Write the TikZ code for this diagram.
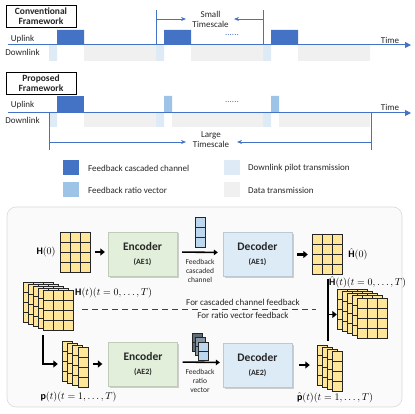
\documentclass[tikz,border=0pt]{standalone}
\usepackage{fontspec}
\setmainfont{Carlito}
\usetikzlibrary{arrows.meta,shadows,calc}
\definecolor{dblue}{HTML}{4472C4}
\definecolor{lblue}{HTML}{9DC3E6}
\definecolor{pilot}{HTML}{DEEBF7}
\definecolor{datag}{HTML}{F0F0F0}
\definecolor{myyellow}{HTML}{FFE699}
\definecolor{encg}{HTML}{E2EFDA}
\definecolor{decb}{HTML}{DDEBF7}
\definecolor{vecb}{HTML}{BDD7EE}
\definecolor{panelg}{HTML}{FAFAFA}
\definecolor{txt}{HTML}{262626}
\newcommand\mgrid[7]{%
  \foreach \gi in {1,...,#3}{\foreach \gj in {1,...,#4}{%
    \filldraw[fill=#7, draw=black!85, line width=0.7pt] ({#1+(\gi-1)*#5},{#2+(\gj-1)*#6}) rectangle ++(#5,#6);}}}
\begin{document}
\begin{tikzpicture}[x=1pt,y=-1pt,
  tl/.style={draw=dblue, line width=1pt},
  tlarrow/.style={draw=dblue, line width=1pt, -{Triangle[length=6pt,width=6pt]}},
  scarrow/.style={draw=dblue, line width=0.8pt, -{Stealth[length=5pt,width=4pt]}},
  titlebox/.style={draw=black, line width=0.8pt, fill=white, text=txt, font=\bfseries\fontsize{9.5}{10.5}\selectfont, align=center, minimum width=70pt, minimum height=22pt, inner sep=0pt},
  lab/.style={font=\fontsize{9}{10}\selectfont, text=txt, inner sep=0pt},
  smalllab/.style={font=\fontsize{7.5}{9}\selectfont, text=txt, align=center, inner sep=0pt},
  enc/.style={fill=encg, draw=encg!85!black, line width=0.3pt, minimum width=69pt, minimum height=44pt, align=center, text=txt, font=\bfseries\fontsize{11.5}{13}\selectfont, drop shadow={shadow xshift=1.5pt, shadow yshift=-1.5pt, opacity=0.3, fill=black!60}},
  dec/.style={enc, fill=decb, draw=decb!85!black},
  holder/.style={inner sep=0pt, draw=none},
  thickarr/.style={line width=2pt, -{Triangle[length=4.5pt,width=7pt]}},
  fbarr/.style={line width=1.6pt, -{Triangle[length=4pt,width=5.5pt]}},
  mathlab/.style={inner sep=0pt, font=\fontsize{10}{12}\selectfont}
]
\useasboundingbox (0,0) rectangle (415,414);

% ---------------- top: conventional ----------------
\node[titlebox] (conv) at (41,16) {Conventional\\Framework};
\node[lab] (up1) at (22.5,39) {Uplink};
\node[lab] (dn1) at (22.5,52) {Downlink};
\fill[dblue] (57,30) rectangle (84,45) (164,30) rectangle (191,45) (271,30) rectangle (298,45);
\fill[pilot] (49,45) rectangle (57,61) (156,45) rectangle (164,61) (263,45) rectangle (271,61);
\fill[datag] (84,45) rectangle (156,61) (191,45) rectangle (263,61) (298,45) rectangle (370,61);
\coordinate (t1s) at (8,45); \coordinate (t1e) at (411,45);
\draw[tlarrow] (t1s) -- (t1e);
\node[lab, anchor=south] (time1) at (390,44) {Time};
\node[text=dblue, inner sep=0pt, font=\fontsize{9}{9}\selectfont] (dots1) at (232,35) {......};
\coordinate (s1a) at (156,10); \coordinate (s1b) at (156,45);
\coordinate (s2a) at (263,10); \coordinate (s2b) at (263,45);
\draw[tl, line width=0.9pt] (s1a) -- (s1b);
\draw[tl, line width=0.9pt] (s2a) -- (s2b);
\coordinate (sa1) at (156,19); \coordinate (sa2) at (186,19);
\coordinate (sb1) at (263,19); \coordinate (sb2) at (234,19);
\draw[scarrow] (sa1) -- (sa2);
\draw[scarrow] (sb1) -- (sb2);
\node[lab, align=center, font=\fontsize{9}{10}\selectfont] (small) at (210.5,19) {Small\\Timescale};

% ---------------- top: proposed ----------------
\node[titlebox] (prop) at (41,83) {Proposed\\Framework};
\node[lab] (up2) at (22.5,105) {Uplink};
\node[lab] (dn2) at (22.5,120) {Downlink};
\fill[dblue] (57,96) rectangle (84,113);
\fill[lblue] (164,96) rectangle (172,113) (271,96) rectangle (279,113);
\fill[pilot] (49,113) rectangle (57,127) (156,113) rectangle (164,127) (263,113) rectangle (271,127);
\fill[datag] (84,113) rectangle (156,127) (172,113) rectangle (263,127) (279,113) rectangle (370,127);
\coordinate (t2s) at (8,113); \coordinate (t2e) at (411,113);
\draw[tlarrow] (t2s) -- (t2e);
\node[lab, anchor=south] (time2) at (390,111) {Time};
\node[text=dblue, inner sep=0pt, font=\fontsize{9}{9}\selectfont] (dots2) at (232,102) {......};
\coordinate (l1a) at (49,113); \coordinate (l1b) at (49,150);
\coordinate (l2a) at (371,113); \coordinate (l2b) at (371,150);
\draw[tl, line width=0.9pt] (l1a) -- (l1b);
\draw[tl, line width=0.9pt] (l2a) -- (l2b);
\coordinate (la1) at (49,142); \coordinate (la2) at (186,142);
\coordinate (lb1) at (371,142); \coordinate (lb2) at (237,142);
\draw[scarrow] (la1) -- (la2);
\draw[scarrow] (lb1) -- (lb2);
\node[lab, align=center, font=\fontsize{9}{10}\selectfont] (large) at (211,140) {Large\\Timescale};

% ---------------- legend ----------------
\fill[dblue] (63,160) rectangle (79,175);
\fill[lblue] (63,182) rectangle (79,197);
\fill[pilot] (224,160) rectangle (240,175);
\fill[datag] (224,182) rectangle (240,197);
\node[lab, anchor=west] (lg1) at (88,168) {Feedback cascaded channel};
\node[lab, anchor=west] (lg2) at (88,190) {Feedback ratio vector};
\node[lab, anchor=west] (lg3) at (248,168) {Downlink pilot transmission};
\node[lab, anchor=west] (lg4) at (248,190) {Data transmission};

% ---------------- bottom panel ----------------
\filldraw[fill=panelg, draw=black!15, line width=0.6pt, rounded corners=9pt] (7,207) rectangle (402,407);

% holders for matrices
\node[holder, minimum width=30pt, minimum height=40pt] (H0) at (75,252) {};
\node[holder, minimum width=30pt, minimum height=40pt] (Hh0) at (327,254) {};
\node[holder, minimum width=50pt, minimum height=48pt] (Ht) at (48,306) {};
\node[holder, minimum width=50pt, minimum height=47pt] (Hht) at (362,314.5) {};
\node[holder, minimum width=26pt, minimum height=46pt] (Pt) at (75,364) {};
\node[holder, minimum width=25pt, minimum height=44pt] (Pht) at (329.5,368) {};
\node[holder, minimum width=10pt, minimum height=30pt] (vec1) at (200,232) {};
\node[holder, minimum width=16pt, minimum height=27pt] (vec2) at (200,346.5) {};

\mgrid{60}{232}{3}{4}{10}{10}{myyellow}
\mgrid{312}{234}{3}{4}{10}{10}{myyellow}
\foreach \k in {0,...,4}{\mgrid{23+5*\k}{282+2*\k}{3}{4}{10}{10}{myyellow}}
\foreach \k in {0,...,4}{\mgrid{337+5*\k}{289+2.25*\k}{3}{4}{10}{10}{myyellow}}
\foreach \k in {0,...,3}{\mgrid{62+5.3*\k}{341+2*\k}{1}{4}{10}{10}{myyellow}}
\foreach \k in {0,...,3}{\mgrid{317+5*\k}{345+2*\k}{1}{4}{10}{10}{myyellow}}
\mgrid{195}{217}{1}{3}{10}{10}{vecb}
\mgrid{192}{333}{1}{2}{10}{9}{black!50!vecb}
\mgrid{195}{337.5}{1}{2}{10}{9}{black!30!vecb}
\mgrid{198}{342}{1}{2}{10}{9}{vecb}

% encoders / decoders
\node[enc] (enc1) at (142.5,254) {Encoder\\[1pt]{\fontsize{8}{9}\selectfont (AE1)}};
\node[dec] (dec1) at (257.5,254.5) {Decoder\\[1pt]{\fontsize{8}{9}\selectfont (AE1)}};
\node[enc] (enc2) at (143,364.5) {Encoder\\[1pt]{\fontsize{8}{9}\selectfont (AE2)}};
\node[dec] (dec2) at (257.5,365) {Decoder\\[1pt]{\fontsize{8}{9}\selectfont (AE2)}};

% labels
\node[mathlab, anchor=east] (lH0) at ([xshift=-4pt]H0.west) {$\mathbf{H}(0)$};
\node[mathlab, anchor=west] (lHh0) at ([xshift=6pt]Hh0.east) {$\hat{\mathbf{H}}(0)$};
\node[mathlab, anchor=west] (lHt) at (75,293) {$\mathbf{H}(t)(t=0,\ldots,T)$};
\node[mathlab, anchor=west] (lHht) at (329,282) {$\hat{\mathbf{H}}(t)(t=0,\ldots,T)$};
\node[mathlab] (lPt) at (78.5,397) {$\mathbf{p}(t)(t=1,\ldots,T)$};
\node[mathlab] (lPht) at (335,398) {$\hat{\mathbf{p}}(t)(t=1,\ldots,T)$};
\node[smalllab] (fb1) at (200,271) {Feedback\\cascaded\\channel};
\node[smalllab] (fb2) at (200,381) {Feedback\\ratio\\vector};

% connectors
\draw[thickarr, shorten <=5pt, shorten >=3pt] (H0.east) -- (H0.east -| enc1.west);
\draw[fbarr, shorten <=5pt, shorten >=5pt] ([yshift=2pt]enc1.east) -- ([yshift=2pt]dec1.west);
\draw[thickarr, shorten <=5pt, shorten >=4pt] (dec1.east) -- (dec1.east -| Hh0.west);
\draw[thickarr, shorten >=4pt] ([xshift=-5pt,yshift=-5pt]Ht.south) |- (Pt.west);
\draw[thickarr, shorten <=5pt, shorten >=6pt] (Pt.east) -- (Pt.east -| enc2.west);
\draw[fbarr, shorten <=5pt, shorten >=3pt] ([yshift=2.5pt]enc2.east) -- ([yshift=2.5pt]dec2.west);
\draw[thickarr, shorten <=7pt, shorten >=7pt] (dec2.east) -- (dec2.east -| Pht.west);
\coordinate (bartop) at (328,279);
\coordinate (barbot) at (328,341);
\draw[line width=2.4pt] (bartop) -- (barbot);
\draw[thickarr, line width=1.6pt] (bartop |- Hht.west) -- (Hht.west);

% dashed separator
\coordinate (dl) at (82,309);
\coordinate (dr) at (316,309);
\draw[black!75, line width=0.9pt, dash pattern=on 6pt off 4pt] (dl) -- (dr);
\node[lab] (fc) at (243,302) {For cascaded channel feedback};
\node[lab] (fr) at (243,315.5) {For ratio vector feedback};
\end{tikzpicture}
\end{document}
